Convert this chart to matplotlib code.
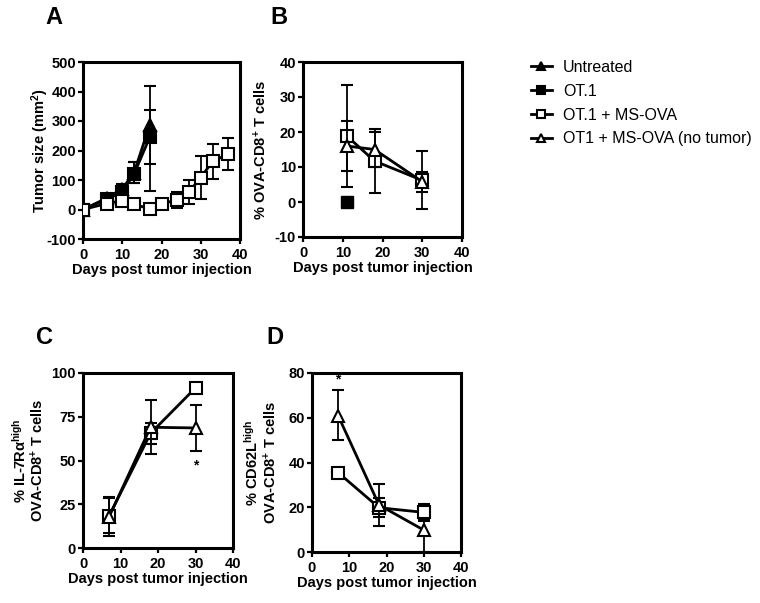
import matplotlib
matplotlib.use("Agg")
import matplotlib.pyplot as plt

plt.rcParams['font.family'] = ['Liberation Sans', 'DejaVu Sans']
plt.rcParams['mathtext.fontset'] = 'custom'
plt.rcParams['mathtext.rm'] = 'Liberation Sans'
plt.rcParams['mathtext.bf'] = 'Liberation Sans:bold'
plt.rcParams['mathtext.it'] = 'Liberation Sans:italic'
plt.rcParams['axes.unicode_minus'] = False

# panel A - tumor size
days_a = [0, 6, 10, 13, 17]
untreated_a = [0, 38, 70, 125, 286]
untreated_a_lo = [0, 8, 15, 35, 133]
untreated_a_hi = [0, 8, 15, 37, 133]
ot1_a = [0, 35, 60, 120, 245]
ot1_a_lo = [0, 5, 20, 30, 181]
ot1_a_hi = [0, 5, 23, 40, 92]
days_a_msova = [0, 6, 10, 13, 17, 20, 24, 27, 30, 33, 37]
msova_a = [0, 20, 30, 18, 2, 20, 32, 60, 108, 163, 188]
msova_a_err = [0, 8, 18, 8, 5, 12, 28, 40, 73, 60, 55]

# panel B - % OVA-CD8+ T cells
days_b = [11, 18, 30]
msova_b = [18.9, 11.7, 6.2]
msova_b_err = [14.5, 9.2, 8.3]
notumor_b = [16, 15, 5.8]
notumor_b_err = [7.1, 5.1, 2.8]
days_b_ot1 = [11]
ot1_b = [0]

# panel C - % IL-7Ra high
days_c = [7, 18, 30]
msova_c = [18.5, 65.5, 91.5]
msova_c_err = [10, 6, 0]
notumor_c = [18, 69, 68.6]
notumor_c_err = [11, 15.5, 13]
star_c = (30, 47)

# panel D - % CD62L high
days_d = [7, 18, 30]
msova_d = [35.5, 19.8, 17.7]
msova_d_err = [0, 4.2, 3.6]
notumor_d = [61, 21, 9.8]
notumor_d_lo = [11, 9.5, 9.8]
notumor_d_hi = [11.5, 9.5, 4]
star_d = (7, 77)

W, H = 760, 603
fig = plt.figure(figsize=(W / 100, H / 100), dpi=100)


def box(l, r, t, b):
    return [l / W, 1 - b / H, (r - l) / W, (b - t) / H]


ax_a = fig.add_axes(box(83, 240, 62, 239))
ax_b = fig.add_axes(box(303, 462, 62, 237))
ax_c = fig.add_axes(box(83, 233, 373, 548))
ax_d = fig.add_axes(box(312, 461, 373, 552))

lw = 2.0
ms = 8.5
ebkw = dict(elinewidth=1.3, capsize=4, capthick=1.3, ecolor='black')


def series(ax, x, y, err, marker, face, label=None, z=3):
    return ax.errorbar(x, y, yerr=err, color='black', lw=lw, marker=marker, ms=ms,
                       mfc=face, mec='black', mew=1.5, label=label, zorder=z, **ebkw)


h_unt = series(ax_a, days_a, untreated_a, [untreated_a_lo, untreated_a_hi], '^', 'black', 'Untreated')
h_ot1 = series(ax_a, days_a, ot1_a, [ot1_a_lo, ot1_a_hi], 's', 'black', 'OT.1')
h_ms = series(ax_a, days_a_msova, msova_a, msova_a_err, 's', 'white', 'OT.1 + MS-OVA', z=4)

series(ax_b, days_b, msova_b, msova_b_err, 's', 'white')
h_nt = series(ax_b, days_b, notumor_b, notumor_b_err, '^', 'white', 'OT1 + MS-OVA (no tumor)', z=4)
ax_b.plot(days_b_ot1, ot1_b, 's', color='black', ms=ms, zorder=5)

series(ax_c, days_c, msova_c, msova_c_err, 's', 'white')
series(ax_c, days_c, notumor_c, notumor_c_err, '^', 'white', z=4)
ax_c.text(star_c[0], star_c[1], '*', ha='center', va='center', fontsize=10, fontweight='bold')

series(ax_d, days_d, msova_d, msova_d_err, 's', 'white')
series(ax_d, days_d, notumor_d, [notumor_d_lo, notumor_d_hi], '^', 'white', z=4)
ax_d.text(star_d[0], star_d[1], '*', ha='center', va='center', fontsize=10, fontweight='bold')

ax_a.set_ylim(-100, 500)
ax_a.set_yticks(range(-100, 501, 100))
ax_b.set_ylim(-10, 40)
ax_b.set_yticks(range(-10, 41, 10))
ax_c.set_ylim(0, 100)
ax_c.set_yticks(range(0, 101, 25))
ax_d.set_ylim(0, 80)
ax_d.set_yticks(range(0, 81, 20))

ax_a.set_ylabel('Tumor size (mm$^{\\mathbf{2}}$)', fontsize=10.5, fontweight='bold', labelpad=-3)
ax_b.set_ylabel('% OVA-CD8$^{\\mathbf{+}}$ T cells', fontsize=10.5, fontweight='bold', labelpad=4)
ax_c.set_ylabel('% IL-7R$\\mathbf{\\alpha}^{\\mathbf{high}}$\nOVA-CD8$^{\\mathbf{+}}$ T cells',
                fontsize=10.5, fontweight='bold', labelpad=4, linespacing=1.0)
ax_d.set_ylabel('% CD62L$^{\\mathbf{high}}$\nOVA-CD8$^{\\mathbf{+}}$ T cells',
                fontsize=10.5, fontweight='bold', labelpad=7, linespacing=1.05)

for ax in (ax_a, ax_b, ax_c, ax_d):
    ax.set_xlim(0, 40)
    ax.set_xticks(range(0, 41, 10))
    ax.set_xlabel('Days post tumor injection', fontsize=10.5, fontweight='bold', labelpad=1)
    for s in ax.spines.values():
        s.set_linewidth(2.2)
    ax.tick_params(direction='out', length=3.5, width=1.6, labelsize=10.5, pad=1.5)
    ax.tick_params(axis='x', pad=3)
    for t in ax.get_xticklabels() + ax.get_yticklabels():
        t.set_fontweight('bold')

for letter, x, y in (('A', 45, 6), ('B', 270, 6), ('C', 36, 326), ('D', 266, 326)):
    fig.text(x / W, 1 - y / H, letter, fontsize=17, fontweight='bold', ha='left', va='top')

fig.legend([h_unt[0], h_ot1[0], h_ms[0], h_nt[0]],
           ['Untreated', 'OT.1', 'OT.1 + MS-OVA', 'OT1 + MS-OVA (no tumor)'],
           loc='upper left', bbox_to_anchor=(531 / W, 1 - 60 / H), frameon=False,
           fontsize=11.5, handlelength=1.3, handletextpad=0.7, labelspacing=0.55,
           borderaxespad=0, borderpad=0, markerscale=0.75)

fig.savefig('out.png', dpi=100)
